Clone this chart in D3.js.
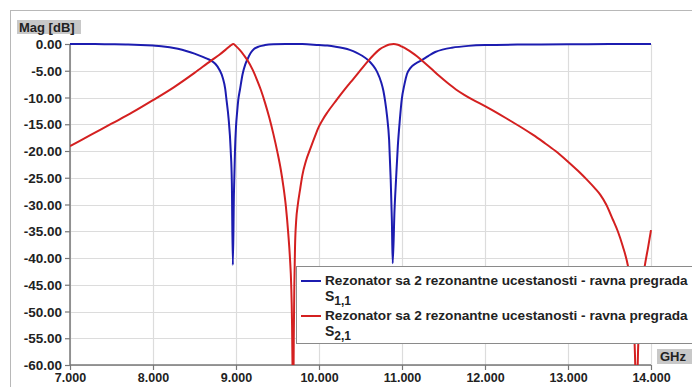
<!DOCTYPE html>
<html>
<head>
<meta charset="utf-8">
<script src="https://cdn.jsdelivr.net/npm/d3@7"></script>
<style>
  html, body { margin: 0; padding: 0; background: #fff; }
  svg { display: block; font-family: "Liberation Sans", Arial, sans-serif; }
</style>
</head>
<body>
<svg id="chart" width="692" height="387"></svg>
<script>
// ---- data ----
const xTicks = [7, 8, 9, 10, 11, 12, 13, 14];
const xTickLabels = ["7.000", "8.000", "9.000", "10.000", "11.000", "12.000", "13.000", "14.000"];
const yTicks = [0, -5, -10, -15, -20, -25, -30, -35, -40, -45, -50, -55, -60];
const yTickLabels = ["0.00", "-5.00", "-10.00", "-15.00", "-20.00", "-25.00", "-30.00", "-35.00", "-40.00", "-45.00", "-50.00", "-55.00", "-60.00"];

// S1,1 (GHz, dB)
const s11Freq = [7.0, 7.3, 7.5, 7.7, 7.85, 8.0, 8.1, 8.2, 8.3, 8.4, 8.5, 8.6, 8.65, 8.7, 8.75, 8.8, 8.84, 8.87, 8.886, 8.91, 8.936, 8.95, 8.962,
  8.975, 8.988, 9.0, 9.015, 9.027, 9.048, 9.08, 9.11, 9.14, 9.18, 9.22, 9.28, 9.35, 9.45, 9.6, 9.8, 10.0, 10.1, 10.2, 10.3, 10.37, 10.45, 10.52, 10.59, 10.65, 10.7, 10.75, 10.775, 10.795, 10.82, 10.845, 10.864, 10.878, 10.888,
  10.91, 10.928, 10.95, 10.975, 10.996, 11.03, 11.06, 11.1, 11.17, 11.24, 11.32, 11.4, 11.5, 11.6, 11.8, 12.0, 12.5, 13.0, 13.5, 14.0];
const s11Mag  = [0.0, -0.02, -0.05, -0.1, -0.18, -0.3, -0.4, -0.6, -0.9, -1.3, -1.8, -2.4, -2.75, -3.1, -3.7, -4.8, -6.3, -8.4, -10.5, -13.8, -19.8, -26.0, -41.3,
  -28.0, -19.8, -15.5, -12.5, -10.5, -8.5, -5.6, -3.9, -2.8, -1.6, -0.9, -0.45, -0.2, -0.05, 0.0, 0.0, -0.2, -0.3, -0.5, -0.8, -1.1, -1.6, -2.2, -3.0, -4.0, -5.2, -7.2, -8.7, -10.5, -13.5, -18.0, -25.4, -33.0, -41.0,
  -31.0, -25.4, -19.0, -14.0, -10.5, -7.5, -5.6, -4.5, -3.6, -3.0, -2.2, -1.5, -1.0, -0.7, -0.35, -0.2, -0.1, -0.05, -0.02, 0.0];

// S2,1 (GHz, dB)
const s21Freq = [7.0, 7.25, 7.5, 7.75, 8.0, 8.25, 8.5, 8.7, 8.8, 8.88, 8.93, 8.97, 9.0, 9.05, 9.1, 9.14, 9.2, 9.25, 9.3, 9.35, 9.4, 9.45, 9.5, 9.54, 9.57, 9.6, 9.63, 9.65, 9.665, 9.675, 9.682, 9.687,
  9.69, 9.696, 9.703, 9.711, 9.725, 9.745, 9.771, 9.8, 9.84, 9.89, 9.95, 10.0, 10.05, 10.1, 10.21, 10.31, 10.41, 10.5, 10.59, 10.66, 10.73, 10.8, 10.85, 10.9, 10.95, 11.0, 11.06, 11.12, 11.18, 11.24,
  11.35, 11.45, 11.55, 11.65, 11.75, 11.85, 12.0, 12.15, 12.3, 12.45, 12.58, 12.7, 12.85, 13.0, 13.12, 13.23, 13.32, 13.39, 13.46, 13.54, 13.6, 13.66, 13.72, 13.76, 13.79, 13.81, 13.825,
  13.84, 13.865, 13.9, 13.93, 13.965, 14.0];
const s21Mag  = [-19.1, -17.0, -14.9, -12.8, -10.5, -8.1, -5.4, -3.1, -2.0, -1.0, -0.35, 0.0, -0.4, -1.2, -2.2, -3.1, -4.8, -6.6, -8.6, -11.0, -13.7, -16.8, -20.3, -23.5, -26.5, -30.2, -35.5, -40.0, -45.0, -52.0, -62.0, -75.0,
  -70.0, -55.0, -45.0, -38.0, -33.0, -30.0, -27.3, -24.5, -22.0, -19.8, -17.3, -15.4, -14.0, -12.8, -10.5, -8.5, -6.6, -4.9, -3.2, -2.0, -1.0, -0.4, -0.1, 0.0, -0.15, -0.5, -1.0, -1.6, -2.3, -3.1,
  -4.6, -6.0, -7.3, -8.5, -9.5, -10.4, -11.6, -12.9, -14.3, -15.7, -17.0, -18.3, -20.0, -22.0, -23.7, -25.4, -26.9, -28.2, -30.0, -32.8, -35.0, -37.8, -41.3, -45.0, -52.0, -60.0, -75.0,
  -60.0, -50.0, -44.0, -41.0, -38.0, -34.8];

const legendLabels = ["Rezonator sa 2 rezonantne ucestanosti - ravna pregrada", "Rezonator sa 2 rezonantne ucestanosti - ravna pregrada"];
const legendSub = [["S", "1,1"], ["S", "2,1"]];
const seriesColors = ["#1c1cb0", "#d42020"];

// ---- drawing ----
const svg = d3.select("#chart");
const x = d3.scaleLinear().domain([7, 14]).range([70, 651]);
const y = d3.scaleLinear().domain([-60, 0]).range([365, 44]);

// outer frame
svg.append("rect").attr("x", 10.5).attr("y", 10.5).attr("width", 720).attr("height", 420)
  .attr("fill", "none").attr("stroke", "#b8b8b8").attr("stroke-width", 1);

// grid
const grid = svg.append("g");
grid.selectAll("line.h").data(yTicks).join("line")
  .attr("x1", x(7)).attr("x2", x(14))
  .attr("y1", d => Math.round(y(d)) + 0.5).attr("y2", d => Math.round(y(d)) + 0.5)
  .attr("stroke", "#dcdcdc").attr("stroke-width", 1.2);
grid.selectAll("line.v").data(xTicks).join("line")
  .attr("y1", y(0)).attr("y2", y(-60))
  .attr("x1", d => Math.round(x(d)) + 0.5).attr("x2", d => Math.round(x(d)) + 0.5)
  .attr("stroke", "#dcdcdc").attr("stroke-width", 1.2);

// axes
const yAxis = svg.append("g").attr("transform", "translate(70,0)")
  .call(d3.axisLeft(y).tickValues(yTicks).tickSize(5).tickFormat((d, i) => yTickLabels[i]));
const xAxis = svg.append("g").attr("transform", "translate(0,365)")
  .call(d3.axisBottom(x).tickValues(xTicks).tickSize(5).tickFormat((d, i) => xTickLabels[i]));
[yAxis, xAxis].forEach(g => {
  g.select(".domain").attr("stroke", "#777").attr("stroke-width", 1.5);
  g.selectAll(".tick line").attr("stroke", "#777").attr("stroke-width", 1.2);
  g.selectAll(".tick text").attr("fill", "#222").attr("font-weight", "bold")
    .attr("font-family", "'Liberation Sans', Arial, sans-serif");
});
yAxis.selectAll(".tick text").attr("font-size", 13.5).attr("x", -8).attr("dy", "0.35em");
xAxis.selectAll(".tick text").attr("font-size", 12.5).attr("y", 8).attr("dy", "0.71em");
yAxis.select(".domain").attr("d", `M0,${y(0)}V${y(-60)}`);
xAxis.select(".domain").attr("d", `M${x(7)},0H${x(14)}`);

// clip
svg.append("clipPath").attr("id", "plotclip").append("rect")
  .attr("x", x(7)).attr("y", y(0) - 3).attr("width", x(14) - x(7) + 2).attr("height", y(-60) - y(0) + 3);

const lineGen = d3.line().x(d => x(d[0])).y(d => y(d[1])).curve(d3.curveMonotoneX);
const s11 = s11Freq.map((f, i) => [f, s11Mag[i]]);
const s21 = s21Freq.map((f, i) => [f, s21Mag[i]]);
const plot = svg.append("g").attr("clip-path", "url(#plotclip)");
plot.append("path").datum(s11).attr("d", lineGen).attr("fill", "none")
  .attr("stroke", seriesColors[0]).attr("stroke-width", 2).attr("stroke-linejoin", "round");
plot.append("path").datum(s21).attr("d", lineGen).attr("fill", "none")
  .attr("stroke", seriesColors[1]).attr("stroke-width", 2).attr("stroke-linejoin", "round");

// Mag [dB] label
svg.append("rect").attr("x", 17).attr("y", 20).attr("width", 64).attr("height", 14).attr("fill", "#c8c8c8");
svg.append("text").attr("x", 19).attr("y", 32).attr("font-size", 13).attr("font-weight", "bold")
  .attr("fill", "#222").text("Mag [dB]");

// GHz label
svg.append("rect").attr("x", 657).attr("y", 349).attr("width", 40).attr("height", 15).attr("fill", "#c8c8c8");
svg.append("text").attr("x", 660).attr("y", 361).attr("font-size", 13).attr("font-weight", "bold")
  .attr("fill", "#222").text("GHz");

// legend
const lg = svg.append("g");
lg.append("rect").attr("x", 296.5).attr("y", 266.5).attr("width", 420).attr("height", 77)
  .attr("fill", "#fff").attr("stroke", "#8a8a8a").attr("stroke-width", 1);
legendLabels.forEach((lab, i) => {
  const y0 = 281 + i * 35;
  lg.append("line").attr("x1", 301).attr("x2", 321).attr("y1", y0).attr("y2", y0)
    .attr("stroke", seriesColors[i]).attr("stroke-width", 2);
  lg.append("text").attr("x", 325).attr("y", y0 + 4).attr("font-size", 13.6).attr("font-weight", "bold")
    .attr("fill", "#222").text(lab);
  const t = lg.append("text").attr("x", 325).attr("y", y0 + 20).attr("font-size", 14)
    .attr("font-weight", "bold").attr("fill", "#222");
  t.append("tspan").text(legendSub[i][0]);
  t.append("tspan").attr("dy", 4).attr("font-size", 12).text(legendSub[i][1]);
});
</script>
</body>
</html>
